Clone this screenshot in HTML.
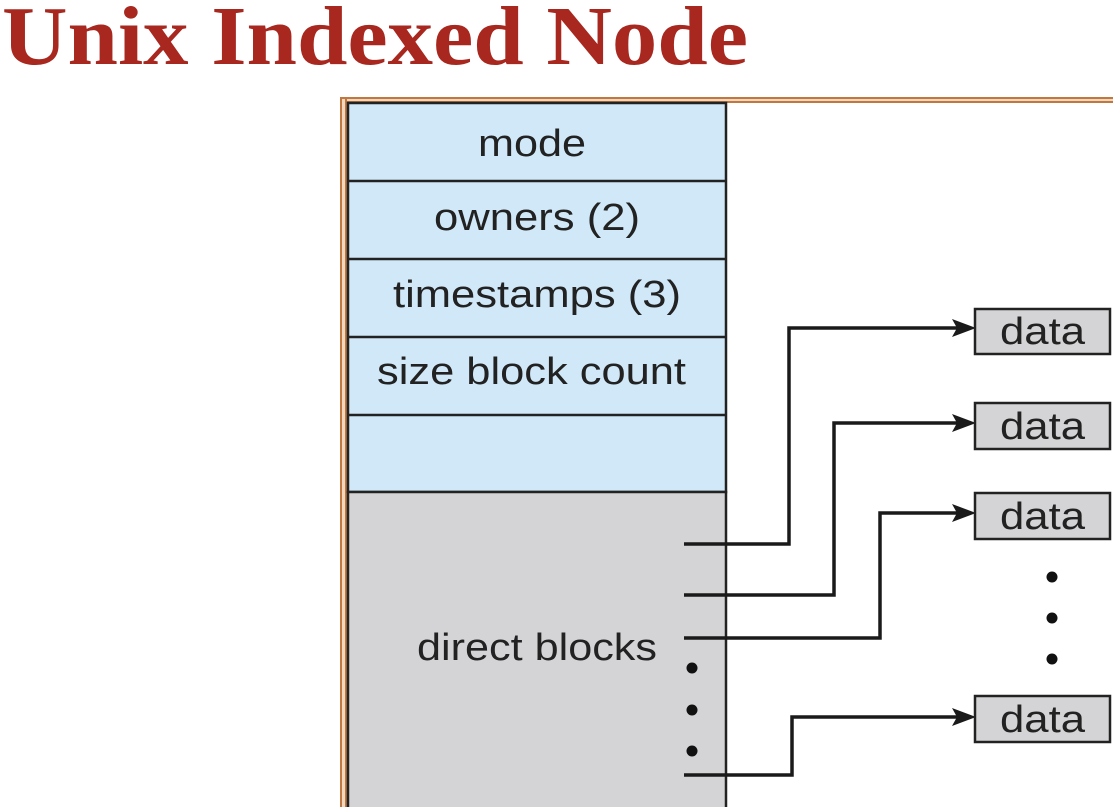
<!DOCTYPE html>
<html><head><meta charset="utf-8"><style>
html,body{margin:0;padding:0;background:#fff;width:1113px;height:807px;overflow:hidden}
svg{display:block}
</style></head><body>
<svg width="1113" height="807" viewBox="0 0 1113 807" xmlns="http://www.w3.org/2000/svg">
<text x="2" y="64" font-family="Liberation Serif, serif" font-weight="bold" font-size="84" fill="#a8271e" textLength="746" lengthAdjust="spacingAndGlyphs">Unix Indexed Node</text>
<!-- brown frame -->
<rect x="340" y="97" width="780" height="6" fill="#c07840"/>
<rect x="341" y="99" width="780" height="2" fill="#f0d8c0"/>
<rect x="340" y="97" width="7" height="720" fill="#c07840"/>
<rect x="342" y="99" width="3" height="720" fill="#f0d8c0"/>
<!-- inode -->
<rect x="348" y="103" width="378" height="389" fill="#d0e8f8" stroke="#222" stroke-width="2.5"/>
<rect x="348" y="492" width="378" height="320" fill="#d4d4d6" stroke="#222" stroke-width="2.5"/>
<g stroke="#222" stroke-width="2.5">
<line x1="348" y1="181" x2="726" y2="181"/>
<line x1="348" y1="259" x2="726" y2="259"/>
<line x1="348" y1="337" x2="726" y2="337"/>
<line x1="348" y1="415" x2="726" y2="415"/>
</g>
<g font-family="Liberation Sans, sans-serif" font-size="38" fill="#222" lengthAdjust="spacingAndGlyphs">
<text x="478" y="156" textLength="108" lengthAdjust="spacingAndGlyphs">mode</text>
<text x="434" y="230" textLength="206" lengthAdjust="spacingAndGlyphs">owners (2)</text>
<text x="393" y="307" textLength="288" lengthAdjust="spacingAndGlyphs">timestamps (3)</text>
<text x="377" y="384" textLength="309" lengthAdjust="spacingAndGlyphs">size block count</text>
<text x="417" y="660" textLength="240" lengthAdjust="spacingAndGlyphs">direct blocks</text>
</g>
<g fill="#111">
<circle cx="692" cy="668" r="5.5"/><circle cx="692" cy="710" r="5.5"/><circle cx="692" cy="751" r="5.5"/>
<circle cx="1052" cy="577" r="5.5"/><circle cx="1052" cy="618" r="5.5"/><circle cx="1052" cy="659" r="5.5"/>
</g>
<!-- connectors -->
<g fill="none" stroke="#1a1a1a" stroke-width="3.5">
<polyline points="684,544 789,544 789,328 960,328"/>
<polyline points="684,595 834,595 834,423 960,423"/>
<polyline points="684,638 880,638 880,513 960,513"/>
<polyline points="684,775 792,775 792,717 960,717"/>
</g>
<g fill="#1a1a1a">
<polygon points="976,328 952,319 957,328 952,337"/>
<polygon points="976,423 952,414 957,423 952,432"/>
<polygon points="976,513 952,504 957,513 952,522"/>
<polygon points="976,717 952,708 957,717 952,726"/>
</g>
<g fill="#d4d4d6" stroke="#222" stroke-width="2.5">
<rect x="975" y="309" width="135" height="45"/>
<rect x="975" y="403" width="135" height="46"/>
<rect x="975" y="493" width="135" height="46"/>
<rect x="975" y="696" width="135" height="46"/>
</g>
<g font-family="Liberation Sans, sans-serif" font-size="38" fill="#222">
<text x="1000" y="344" textLength="85" lengthAdjust="spacingAndGlyphs">data</text>
<text x="1000" y="439" textLength="85" lengthAdjust="spacingAndGlyphs">data</text>
<text x="1000" y="529" textLength="85" lengthAdjust="spacingAndGlyphs">data</text>
<text x="1000" y="732" textLength="85" lengthAdjust="spacingAndGlyphs">data</text>
</g>
</svg>
</body></html>
